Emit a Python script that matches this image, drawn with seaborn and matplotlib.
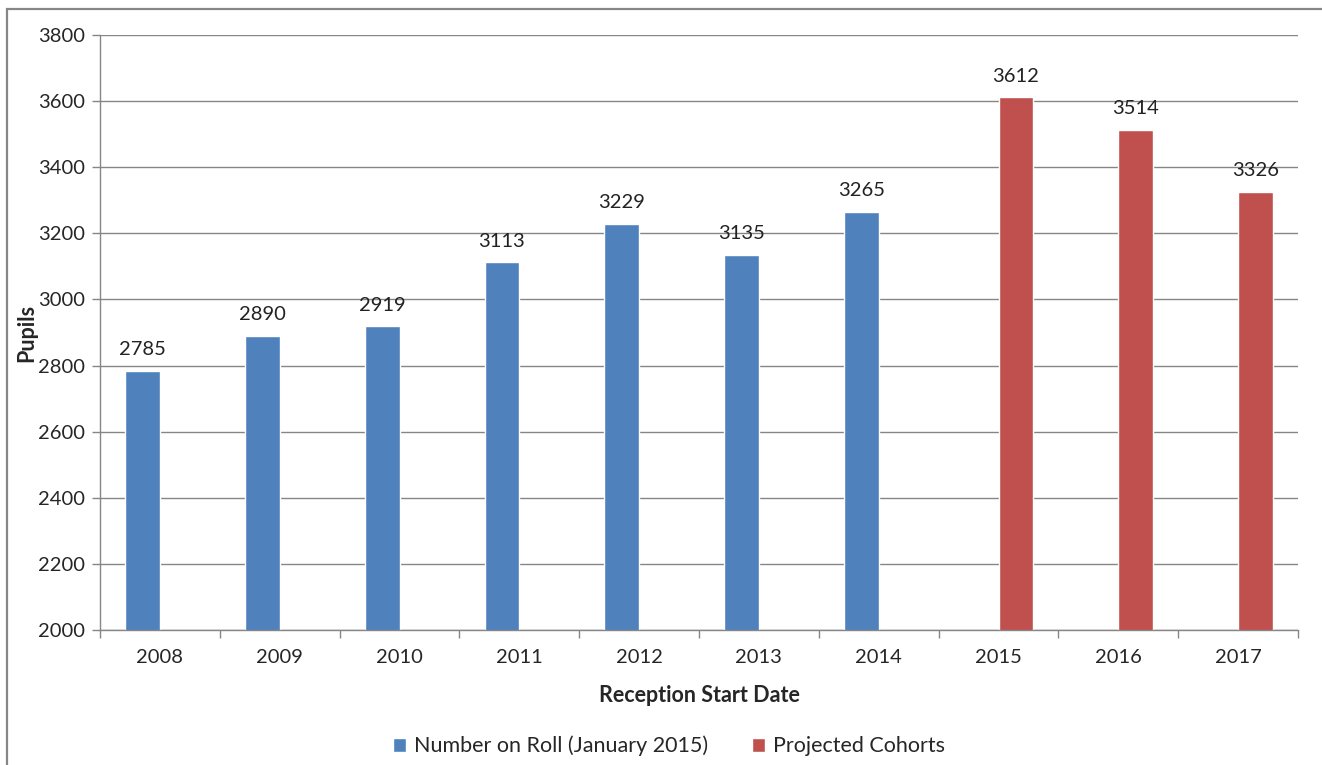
import pandas as pd
import matplotlib
matplotlib.use("Agg")
import matplotlib.pyplot as plt
import seaborn as sns
from matplotlib.patches import Rectangle

# data
years = ["2008", "2009", "2010", "2011", "2012", "2013", "2014", "2015", "2016", "2017"]
on_roll = [2785, 2890, 2919, 3113, 3229, 3135, 3265]
projected = [3612, 3514, 3326]
series_names = ["Number on Roll (January 2015)", "Projected Cohorts"]

df = pd.DataFrame({
    "year": years,
    "pupils": on_roll + projected,
    "series": [series_names[0]] * len(on_roll) + [series_names[1]] * len(projected),
})

sns.set_style("white")
plt.rcParams["font.family"] = ["Lato", "DejaVu Sans"]

grey = "#868686"
fig = plt.figure(figsize=(13.22, 7.65), dpi=100)
ax = fig.add_axes([100 / 1322, 1 - 630 / 765, 1198 / 1322, 595 / 765])

sns.barplot(data=df, x="year", y="pupils", hue="series", order=years,
            hue_order=series_names, palette=["#4F81BD", "#C0504D"],
            width=0.58, dodge=True, saturation=1, ax=ax)

for c in ax.containers:
    ax.bar_label(c, padding=9, fontsize=14.5, color="#222222")

ax.set_ylim(2000, 3800)
ax.set_yticks(range(2000, 3801, 200))
ax.set_xlim(-0.5, len(years) - 0.5)
ax.yaxis.grid(True, color=grey, lw=1)
ax.set_axisbelow(True)

for s in ["top", "right"]:
    ax.spines[s].set_visible(False)
for s in ["left", "bottom"]:
    ax.spines[s].set_color(grey)
    ax.spines[s].set_linewidth(1)

ax.tick_params(axis="y", length=6, color=grey, width=1, labelsize=14.5, pad=5, left=True)
ax.tick_params(axis="x", which="major", length=0, labelsize=14.5, pad=14)
ax.set_xticks([i - 0.5 for i in range(len(years) + 1)], minor=True)
ax.tick_params(axis="x", which="minor", length=6, color=grey, width=1, bottom=True)

ax.set_xlabel("Reception Start Date", fontsize=15.5, fontweight="bold", labelpad=13)
ax.set_ylabel("Pupils", fontsize=15.5, fontweight="bold", labelpad=0)

sns.move_legend(ax, "lower center", bbox_to_anchor=(0.475, -0.245), ncol=2,
                frameon=False, title=None, fontsize=15.5,
                handlelength=0.6, handleheight=0.6, handletextpad=0.4,
                columnspacing=2.0)

fig.patches.append(Rectangle((7 / 1322, -0.1), 1.2, 1.1 - 9 / 765,
                             transform=fig.transFigure, fill=False,
                             edgecolor=grey, lw=1.6, zorder=10))

fig.savefig("out.png", dpi=100)
